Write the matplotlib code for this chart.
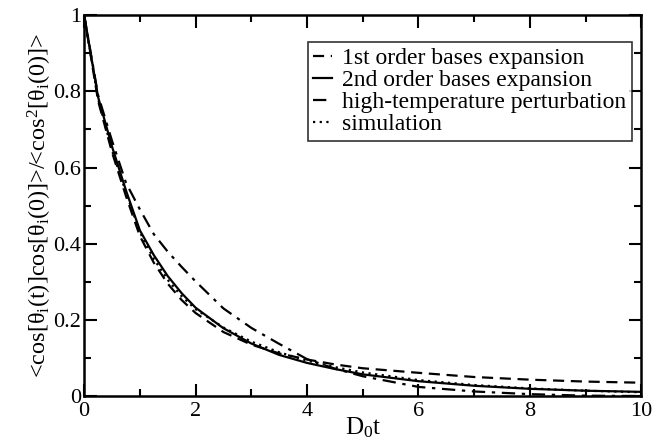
import numpy as np
import matplotlib
matplotlib.use("Agg")
from matplotlib import pyplot as plt
from matplotlib.ticker import MultipleLocator

plt.rcParams['font.family'] = ['Liberation Serif', 'DejaVu Serif']
plt.rcParams['mathtext.fontset'] = 'custom'
plt.rcParams['mathtext.rm'] = 'Liberation Serif'
plt.rcParams['mathtext.it'] = 'Liberation Serif:italic'

# reduced time D0 t
t = [0, 0.25, 0.5, 0.75, 1, 1.25, 1.5, 1.75, 2, 2.5, 3, 3.5, 4, 4.5, 5, 6, 7, 8, 9, 10]

first_order = [1.0, 0.775, 0.64, 0.525, 0.42, 0.35, 0.295, 0.252, 0.218, 0.168, 0.135,
               0.112, 0.096, 0.083, 0.073, 0.061, 0.050, 0.043, 0.038, 0.035]
second_order = [1.0, 0.785, 0.655, 0.54, 0.435, 0.37, 0.315, 0.27, 0.232, 0.178, 0.138,
                0.108, 0.087, 0.071, 0.057, 0.039, 0.027, 0.019, 0.014, 0.011]
high_temp = [1.0, 0.79, 0.67, 0.56, 0.49, 0.425, 0.379, 0.339, 0.301, 0.23, 0.179,
             0.137, 0.097, 0.072, 0.052, 0.024, 0.012, 0.005, 0.001, 0.0]
simulation = [1.0, 0.78, 0.645, 0.535, 0.43, 0.36, 0.305, 0.262, 0.228, 0.18, 0.143,
              0.115, 0.093, 0.076, 0.062, 0.042, 0.029, 0.020, 0.014, 0.010]

labels = ['1st order bases expansion', '2nd order bases expansion',
          'high-temperature perturbation', 'simulation']

fig = plt.figure(figsize=(6.68, 4.46), dpi=100)
ax = fig.add_axes([0.126, 0.112, 0.834, 0.854])

lw = 1.6
ax.plot(t, first_order, color='black', lw=lw, ls=(0, (5, 3)), label=labels[0])
ax.plot(t, second_order, color='black', lw=lw, ls='-', label=labels[1])
ax.plot(t, high_temp, color='black', lw=lw, ls=(0, (6, 3, 1.5, 3)), label=labels[2])
ax.plot(t, simulation, color='black', lw=lw, ls=(0, (1, 2)), label=labels[3])

ax.set_xlim(0, 10)
ax.set_ylim(0, 1)
ax.xaxis.set_minor_locator(MultipleLocator(1))
ax.yaxis.set_minor_locator(MultipleLocator(0.1))
ax.set_xticks([0, 2, 4, 6, 8, 10], ['0', '2', '4', '6', '8', '10'])
ax.set_yticks([0, 0.2, 0.4, 0.6, 0.8, 1.0], ['0', '0.2', '0.4', '0.6', '0.8', '1'])
ax.tick_params(which='both', direction='in', top=True, right=True, labelsize=16, width=1.5)
ax.tick_params(which='major', length=9)
ax.tick_params(axis='x', which='major', pad=4)
ax.tick_params(axis='y', which='major', pad=2)
ax.tick_params(which='minor', length=5)
for sp in ax.spines.values():
    sp.set_linewidth(1.8)

ax.set_xlabel(r'D$_\mathrm{0}$t', fontsize=18, labelpad=-4)
ax.set_ylabel(r'<cos[θ$_\mathrm{i}$(t)]cos[θ$_\mathrm{i}$(0)]>/<cos$^\mathrm{2}$[θ$_\mathrm{i}$(0)]>',
              fontsize=17.5, labelpad=0)

leg = ax.legend(loc='upper right', bbox_to_anchor=(0.983, 0.93), fontsize=17,
                frameon=True, fancybox=False, edgecolor='black', handlelength=0.8,
                handletextpad=0.4, borderpad=0.25, labelspacing=0.02, borderaxespad=0)
leg.get_frame().set_linewidth(1.2)

plt.savefig('out.png', dpi=100)
